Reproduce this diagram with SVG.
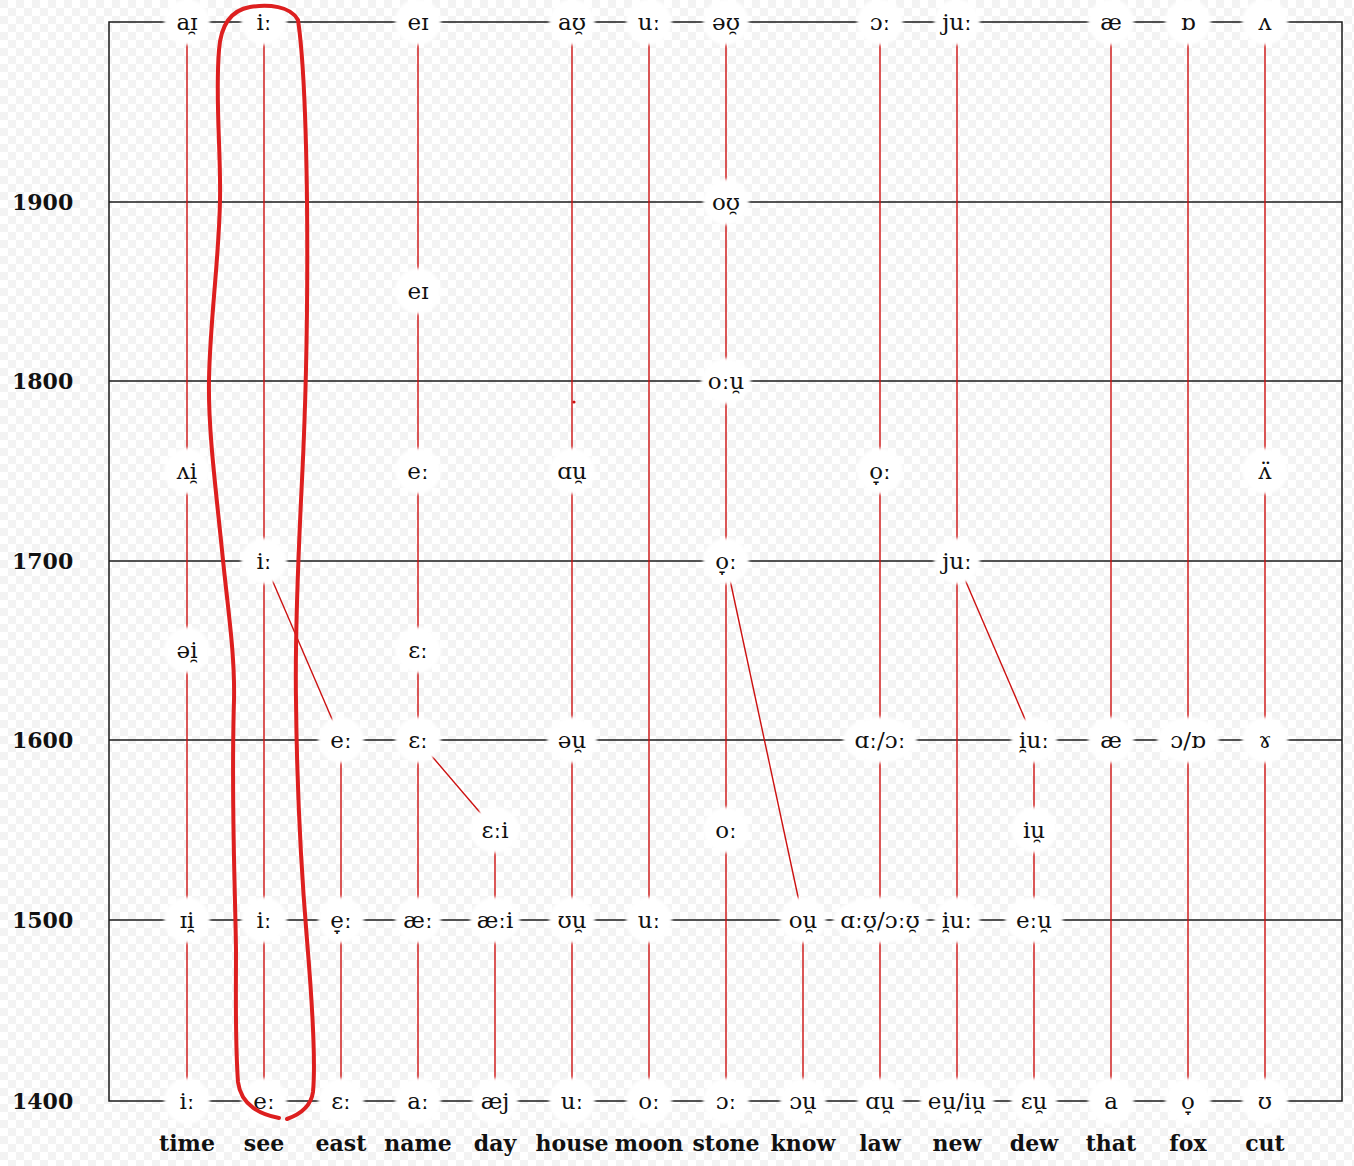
<svg xmlns="http://www.w3.org/2000/svg" width="1354" height="1166" viewBox="0 0 1354 1166">
<defs>
<pattern id="chk" width="16" height="16" patternUnits="userSpaceOnUse">
<rect width="16" height="16" fill="#ffffff"/>
<rect width="8" height="8" fill="#f3f3f3"/>
<rect x="8" y="8" width="8" height="8" fill="#f3f3f3"/>
</pattern>
<filter id="soft" x="-30%" y="-30%" width="160%" height="160%"><feGaussianBlur stdDeviation="1.5"/></filter>
</defs>
<style>
.grid{stroke:#1a1a1a;stroke-width:1.5;fill:none}
.red{stroke:#cc1111;stroke-width:1.4;fill:none}
.halo{fill:#ffffff;filter:url(#soft)}
.ipa{font-family:"DejaVu Serif","Liberation Serif",serif;font-size:23px;fill:#111;text-anchor:middle}
.word{font-family:"DejaVu Serif","Liberation Serif",serif;font-size:22px;font-weight:bold;fill:#111;text-anchor:middle}
.year{font-family:"DejaVu Serif","Liberation Serif",serif;font-size:22px;font-weight:bold;fill:#111}
.hand{stroke:#dd1f1f;stroke-width:4;fill:none;stroke-linecap:round;stroke-linejoin:round}
</style>
<rect width="1354" height="1166" fill="url(#chk)"/>

<g id="connectors">
<rect class="grid" x="109" y="22" width="1233" height="1079"/>
<line class="grid" x1="109" y1="202" x2="1342" y2="202"/>
<line class="grid" x1="109" y1="381" x2="1342" y2="381"/>
<line class="grid" x1="109" y1="561" x2="1342" y2="561"/>
<line class="grid" x1="109" y1="740" x2="1342" y2="740"/>
<line class="grid" x1="109" y1="920" x2="1342" y2="920"/>
<line class="red" x1="187" y1="22" x2="187" y2="1101"/>
<line class="red" x1="264" y1="22" x2="264" y2="1101"/>
<line class="red" x1="341" y1="740" x2="341" y2="1101"/>
<line class="red" x1="418" y1="22" x2="418" y2="1101"/>
<line class="red" x1="495" y1="830" x2="495" y2="1101"/>
<line class="red" x1="572" y1="22" x2="572" y2="1101"/>
<line class="red" x1="649" y1="22" x2="649" y2="1101"/>
<line class="red" x1="726" y1="22" x2="726" y2="1101"/>
<line class="red" x1="803" y1="920" x2="803" y2="1101"/>
<line class="red" x1="880" y1="22" x2="880" y2="1101"/>
<line class="red" x1="957" y1="22" x2="957" y2="1101"/>
<line class="red" x1="1034" y1="740" x2="1034" y2="1101"/>
<line class="red" x1="1111" y1="22" x2="1111" y2="1101"/>
<line class="red" x1="1188" y1="22" x2="1188" y2="1101"/>
<line class="red" x1="1265" y1="22" x2="1265" y2="1101"/>
<line class="red" x1="264" y1="561" x2="341" y2="740"/>
<line class="red" x1="418" y1="740" x2="495" y2="830"/>
<line class="red" x1="726" y1="561" x2="803" y2="920"/>
<line class="red" x1="957" y1="561" x2="1034" y2="740"/>
<circle cx="574" cy="402" r="1.6" fill="#cc1111"/>
</g>

<g id="years">
<text class="year" x="12" y="210">1900</text>
<text class="year" x="12" y="389">1800</text>
<text class="year" x="12" y="569">1700</text>
<text class="year" x="12" y="748">1600</text>
<text class="year" x="12" y="928">1500</text>
<text class="year" x="12" y="1109">1400</text>
</g>

<g id="r2000">
<g id="n-time-2000"><ellipse class="halo" cx="187" cy="22" rx="23" ry="23"/><text class="ipa" x="187" y="30">aɪ̯</text></g>
<g id="n-see-2000"><ellipse class="halo" cx="264" cy="22" rx="23" ry="23"/><text class="ipa" x="264" y="30">iː</text></g>
<g id="n-name-2000"><ellipse class="halo" cx="418" cy="22" rx="23" ry="23"/><text class="ipa" x="418" y="30">eɪ</text></g>
<g id="n-house-2000"><ellipse class="halo" cx="572" cy="22" rx="23" ry="23"/><text class="ipa" x="572" y="30">aʊ̯</text></g>
<g id="n-moon-2000"><ellipse class="halo" cx="649" cy="22" rx="23" ry="23"/><text class="ipa" x="649" y="30">uː</text></g>
<g id="n-stone-2000"><ellipse class="halo" cx="726" cy="22" rx="23" ry="23"/><text class="ipa" x="726" y="30">əʊ̯</text></g>
<g id="n-law-2000"><ellipse class="halo" cx="880" cy="22" rx="23" ry="23"/><text class="ipa" x="880" y="30">ɔː</text></g>
<g id="n-new-2000"><ellipse class="halo" cx="957" cy="22" rx="23" ry="23"/><text class="ipa" x="957" y="30">juː</text></g>
<g id="n-that-2000"><ellipse class="halo" cx="1111" cy="22" rx="23" ry="23"/><text class="ipa" x="1111" y="30">æ</text></g>
<g id="n-fox-2000"><ellipse class="halo" cx="1188" cy="22" rx="23" ry="23"/><text class="ipa" x="1188" y="30">ɒ</text></g>
<g id="n-cut-2000"><ellipse class="halo" cx="1265" cy="22" rx="23" ry="23"/><text class="ipa" x="1265" y="30">ʌ</text></g>
</g>

<g id="r1900">
<g id="n-stone-1900"><ellipse class="halo" cx="726" cy="202" rx="23" ry="23"/><text class="ipa" x="726" y="210">oʊ̯</text></g>
<g id="n-name-1850"><ellipse class="halo" cx="418" cy="291" rx="23" ry="23"/><text class="ipa" x="418" y="299">eɪ</text></g>
<g id="n-stone-1800"><ellipse class="halo" cx="726" cy="381" rx="25" ry="23"/><text class="ipa" x="726" y="389">oːu̯</text></g>
</g>

<g id="r1750">
<g id="n-time-1750"><ellipse class="halo" cx="187" cy="471" rx="23" ry="23"/><text class="ipa" x="187" y="479">ʌi̯</text></g>
<g id="n-name-1750"><ellipse class="halo" cx="418" cy="471" rx="23" ry="23"/><text class="ipa" x="418" y="479">eː</text></g>
<g id="n-house-1750"><ellipse class="halo" cx="572" cy="471" rx="23" ry="23"/><text class="ipa" x="572" y="479">ɑu̯</text></g>
<g id="n-law-1750"><ellipse class="halo" cx="880" cy="471" rx="23" ry="23"/><text class="ipa" x="880" y="479">o̞ː</text></g>
<g id="n-cut-1750"><ellipse class="halo" cx="1265" cy="471" rx="23" ry="23"/><text class="ipa" x="1265" y="479">ʌ̈</text></g>
</g>

<g id="r1700">
<g id="n-see-1700"><ellipse class="halo" cx="264" cy="561" rx="23" ry="23"/><text class="ipa" x="264" y="569">iː</text></g>
<g id="n-stone-1700"><ellipse class="halo" cx="726" cy="561" rx="23" ry="23"/><text class="ipa" x="726" y="569">o̞ː</text></g>
<g id="n-new-1700"><ellipse class="halo" cx="957" cy="561" rx="23" ry="23"/><text class="ipa" x="957" y="569">juː</text></g>
<g id="n-time-1650"><ellipse class="halo" cx="187" cy="650" rx="23" ry="23"/><text class="ipa" x="187" y="658">əi̯</text></g>
<g id="n-name-1650"><ellipse class="halo" cx="418" cy="650" rx="23" ry="23"/><text class="ipa" x="418" y="658">ɛː</text></g>
</g>

<g id="r1600">
<g id="n-east-1600"><ellipse class="halo" cx="341" cy="740" rx="23" ry="23"/><text class="ipa" x="341" y="748">eː</text></g>
<g id="n-name-1600"><ellipse class="halo" cx="418" cy="740" rx="23" ry="23"/><text class="ipa" x="418" y="748">ɛː</text></g>
<g id="n-house-1600"><ellipse class="halo" cx="572" cy="740" rx="25" ry="23"/><text class="ipa" x="572" y="748">əu̯</text></g>
<g id="n-law-1600"><ellipse class="halo" cx="880" cy="740" rx="37" ry="23"/><text class="ipa" x="880" y="748">ɑː/ɔː</text></g>
<g id="n-dew-1600"><ellipse class="halo" cx="1034" cy="740" rx="23" ry="23"/><text class="ipa" x="1034" y="748">i̯uː</text></g>
<g id="n-that-1600"><ellipse class="halo" cx="1111" cy="740" rx="23" ry="23"/><text class="ipa" x="1111" y="748">æ</text></g>
<g id="n-fox-1600"><ellipse class="halo" cx="1188" cy="740" rx="31" ry="23"/><text class="ipa" x="1188" y="748">ɔ/ɒ</text></g>
<g id="n-cut-1600"><ellipse class="halo" cx="1265" cy="740" rx="23" ry="23"/><text class="ipa" x="1265" y="748">ɤ</text></g>
<g id="n-day-1550"><ellipse class="halo" cx="495" cy="830" rx="25" ry="23"/><text class="ipa" x="495" y="838">ɛːi</text></g>
<g id="n-stone-1550"><ellipse class="halo" cx="726" cy="830" rx="23" ry="23"/><text class="ipa" x="726" y="838">oː</text></g>
<g id="n-dew-1550"><ellipse class="halo" cx="1034" cy="830" rx="23" ry="23"/><text class="ipa" x="1034" y="838">iu̯</text></g>
</g>

<g id="r1500">
<g id="n-time-1500"><ellipse class="halo" cx="187" cy="920" rx="23" ry="23"/><text class="ipa" x="187" y="928">ɪi̯</text></g>
<g id="n-see-1500"><ellipse class="halo" cx="264" cy="920" rx="23" ry="23"/><text class="ipa" x="264" y="928">iː</text></g>
<g id="n-east-1500"><ellipse class="halo" cx="341" cy="920" rx="23" ry="23"/><text class="ipa" x="341" y="928">e̞ː</text></g>
<g id="n-name-1500"><ellipse class="halo" cx="418" cy="920" rx="23" ry="23"/><text class="ipa" x="418" y="928">æː</text></g>
<g id="n-day-1500"><ellipse class="halo" cx="495" cy="920" rx="25" ry="23"/><text class="ipa" x="495" y="928">æːi</text></g>
<g id="n-house-1500"><ellipse class="halo" cx="572" cy="920" rx="23" ry="23"/><text class="ipa" x="572" y="928">ʊu̯</text></g>
<g id="n-moon-1500"><ellipse class="halo" cx="649" cy="920" rx="23" ry="23"/><text class="ipa" x="649" y="928">uː</text></g>
<g id="n-know-1500"><ellipse class="halo" cx="803" cy="920" rx="23" ry="23"/><text class="ipa" x="803" y="928">ou̯</text></g>
<g id="n-law-1500"><ellipse class="halo" cx="880" cy="920" rx="47" ry="23"/><text class="ipa" x="880" y="928">ɑːʊ̯/ɔːʊ̯</text></g>
<g id="n-new-1500"><ellipse class="halo" cx="957" cy="920" rx="23" ry="23"/><text class="ipa" x="957" y="928">i̯uː</text></g>
<g id="n-dew-1500"><ellipse class="halo" cx="1034" cy="920" rx="29" ry="23"/><text class="ipa" x="1034" y="928">eːu̯</text></g>
</g>

<g id="r1400">
<g id="n-time-1400"><ellipse class="halo" cx="187" cy="1101" rx="23" ry="23"/><text class="ipa" x="187" y="1109">iː</text></g>
<g id="n-see-1400"><ellipse class="halo" cx="264" cy="1101" rx="23" ry="23"/><text class="ipa" x="264" y="1109">eː</text></g>
<g id="n-east-1400"><ellipse class="halo" cx="341" cy="1101" rx="23" ry="23"/><text class="ipa" x="341" y="1109">ɛː</text></g>
<g id="n-name-1400"><ellipse class="halo" cx="418" cy="1101" rx="23" ry="23"/><text class="ipa" x="418" y="1109">aː</text></g>
<g id="n-day-1400"><ellipse class="halo" cx="495" cy="1101" rx="23" ry="23"/><text class="ipa" x="495" y="1109">æj</text></g>
<g id="n-house-1400"><ellipse class="halo" cx="572" cy="1101" rx="23" ry="23"/><text class="ipa" x="572" y="1109">uː</text></g>
<g id="n-moon-1400"><ellipse class="halo" cx="649" cy="1101" rx="23" ry="23"/><text class="ipa" x="649" y="1109">oː</text></g>
<g id="n-stone-1400"><ellipse class="halo" cx="726" cy="1101" rx="23" ry="23"/><text class="ipa" x="726" y="1109">ɔː</text></g>
<g id="n-know-1400"><ellipse class="halo" cx="803" cy="1101" rx="23" ry="23"/><text class="ipa" x="803" y="1109">ɔu̯</text></g>
<g id="n-law-1400"><ellipse class="halo" cx="880" cy="1101" rx="23" ry="23"/><text class="ipa" x="880" y="1109">ɑu̯</text></g>
<g id="n-new-1400"><ellipse class="halo" cx="957" cy="1101" rx="37" ry="23"/><text class="ipa" x="957" y="1109">eu̯/iu̯</text></g>
<g id="n-dew-1400"><ellipse class="halo" cx="1034" cy="1101" rx="23" ry="23"/><text class="ipa" x="1034" y="1109">ɛu̯</text></g>
<g id="n-that-1400"><ellipse class="halo" cx="1111" cy="1101" rx="23" ry="23"/><text class="ipa" x="1111" y="1109">a</text></g>
<g id="n-fox-1400"><ellipse class="halo" cx="1188" cy="1101" rx="23" ry="23"/><text class="ipa" x="1188" y="1109">o̞</text></g>
<g id="n-cut-1400"><ellipse class="halo" cx="1265" cy="1101" rx="23" ry="23"/><text class="ipa" x="1265" y="1109">ʊ</text></g>
</g>

<g id="words">
<text class="word" x="187" y="1151">time</text>
<text class="word" x="264" y="1151">see</text>
<text class="word" x="341" y="1151">east</text>
<text class="word" x="418" y="1151">name</text>
<text class="word" x="495" y="1151">day</text>
<text class="word" x="572" y="1151">house</text>
<text class="word" x="649" y="1151">moon</text>
<text class="word" x="726" y="1151">stone</text>
<text class="word" x="803" y="1151">know</text>
<text class="word" x="880" y="1151">law</text>
<text class="word" x="957" y="1151">new</text>
<text class="word" x="1034" y="1151">dew</text>
<text class="word" x="1111" y="1151">that</text>
<text class="word" x="1188" y="1151">fox</text>
<text class="word" x="1265" y="1151">cut</text>
</g>

<g id="highlight">
<path class="hand" d="M 279,1118 C 262,1115 241,1106 238,1082 C 235,1040 236,1000 236,950 C 235,880 231,800 234,700 C 235,655 228,610 223,560 C 216,490 208,430 209,380 C 210,320 219,260 220,200 C 221,150 215,100 219,50 C 221,22 233,10 250,7 C 268,4 291,6 298,20 C 304,60 306,120 307,200 C 308,300 306,400 302,480 C 298,560 295,640 296,700 C 297,800 302,880 307,940 C 312,1000 316,1060 313,1092 C 311,1106 301,1114 287,1119"/>
</g>
</svg>
